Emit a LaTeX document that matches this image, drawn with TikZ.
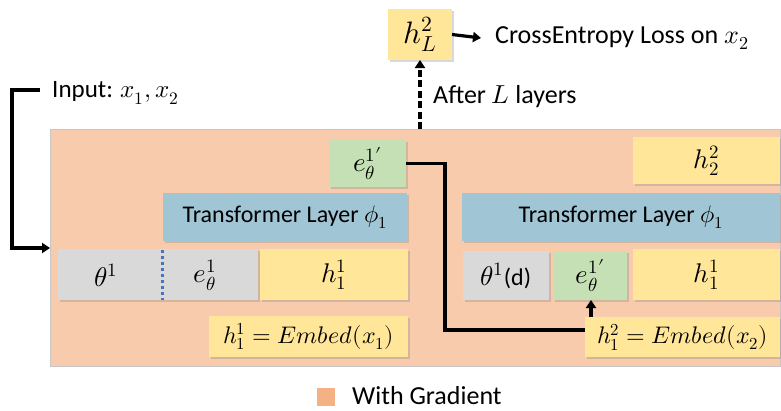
\documentclass[tikz,border=0pt]{standalone}
\usepackage{fontspec}
\setmainfont{Carlito}
\usepackage{unicode-math}
\setmathfont{Latin Modern Math}
\usetikzlibrary{arrows.meta,shadows,calc}
\definecolor{bgor}{HTML}{F8CBAD}
\definecolor{legor}{HTML}{F4B183}
\definecolor{yel}{HTML}{FFE699}
\definecolor{grn}{HTML}{C5E0B4}
\definecolor{blu}{HTML}{A0C5D5}
\definecolor{gry}{HTML}{D9D9D9}
\definecolor{dotblue}{HTML}{4472C4}
\begin{document}
\begin{tikzpicture}[x=1pt,y=-1pt,
  font=\fontsize{24}{28}\selectfont,
  big/.style={font=\fontsize{27}{31}\selectfont},
  box/.style={anchor=north west, inner sep=0pt, outer sep=0pt,
    drop shadow={shadow xshift=1.5pt,shadow yshift=-1.5pt,opacity=0.3}},
  lbl/.style={anchor=west, inner sep=0pt, font=\fontsize{26}{30}\selectfont},
  conn/.style={line width=3.2pt, line join=miter},
  arr/.style={conn, -{Triangle[width=10pt,length=8pt]}}]
\useasboundingbox (0,0) rectangle (781,410);
% background
\node[anchor=north west, fill=bgor, draw=gray!45, line width=0.8pt, inner sep=0pt,
  minimum width=730pt, minimum height=237pt] (bg) at (50,129) {};
% top
\node[box, fill=yel, minimum width=64pt, minimum height=51pt, font=\fontsize{31}{35}\selectfont] (hL) at (388,9) {$h_L^2$};
\node[lbl] (ce) at (495,38) {CrossEntropy Loss on $x_2$};
\node[lbl] (after) at (433,97) {After $L$ layers};
\node[lbl, font=\fontsize{25}{29}\selectfont] (inp) at (52,93) {Input: $x_1, x_2$};
% left section
\node[box, big, fill=grn, minimum width=77pt, minimum height=47pt] (eL) at (329,140) {$e_\theta^{1}{}'$};
\node[box, fill=blu, minimum width=244pt, minimum height=48pt] (tL) at (163,193) {Transformer Layer $\phi_1$};
\node[box, fill=gry, minimum width=200pt, minimum height=51pt] (gL) at (58,249) {};
\node[big, inner sep=0pt] (th1) at (106,275) {$\theta^1$};
\node[big, inner sep=0pt] (e1) at (205,275) {$e_\theta^1$};
\node[box, big, fill=yel, minimum width=148pt, minimum height=51pt] (h1L) at (260,249) {$h_1^1$};
\node[box, fill=yel, minimum width=199pt, minimum height=41pt] (emb1) at (209,316) {$h_1^1 = Embed(x_1)$};
% right section
\node[box, big, fill=yel, minimum width=147pt, minimum height=47pt] (h22) at (633,137) {$h_2^2$};
\node[box, fill=blu, minimum width=318pt, minimum height=48pt] (tR) at (462,193) {Transformer Layer $\phi_1$};
\node[box, fill=gry, minimum width=86pt, minimum height=49pt] (gR) at (463,251) {{\fontsize{27}{31}\selectfont$\theta^1$}(d)};
\node[box, big, fill=grn, minimum width=74pt, minimum height=49pt] (eR) at (553,251) {$e_\theta^{1}{}'$};
\node[box, big, fill=yel, minimum width=147pt, minimum height=51pt] (h1R) at (633,249) {$h_1^1$};
\node[box, fill=yel, minimum width=195pt, minimum height=40pt] (emb2) at (585,317) {$h_1^2 = Embed(x_2)$};
% dotted divider
\draw[dotblue, line width=3pt, dash pattern=on 3pt off 3pt] (162,250) -- (162,300);
% connectors
\draw[arr] (hL.east) -- ([xshift=-14pt]ce.west);
\draw[arr, dash pattern=on 7pt off 3.5pt] (hL.south |- bg.north) -- (hL.south);
\coordinate (inEnd) at (50,248);
\draw[arr] ([xshift=-12pt,yshift=3pt]inp.west) -- ++(-28,0) |- (inEnd);
\draw[conn] (eL.east) -- ++(39,0) |- ([yshift=7pt]emb2.west);
\draw[arr] ([xshift=6pt]emb2.north west) -- ([xshift=6pt]emb2.north west |- eR.south);
% legend
\node[fill=legor, minimum size=18pt, inner sep=0pt, anchor=north west] (leg) at (317,388) {};
\node[lbl, font=\fontsize{26}{30}\selectfont] (legt) at (352,396) {With Gradient};
\end{tikzpicture}
\end{document}
